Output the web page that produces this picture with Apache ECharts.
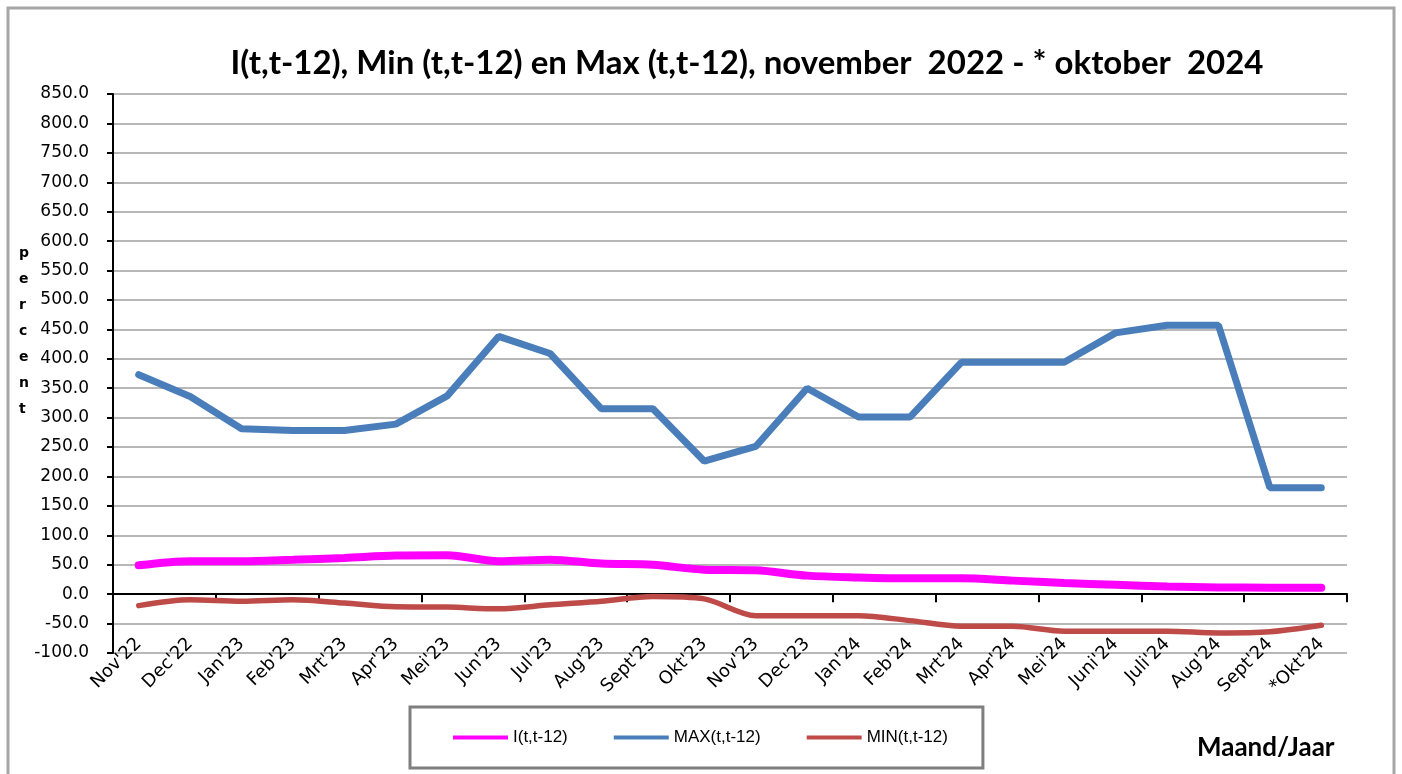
<!DOCTYPE html>
<html>
<head>
<meta charset="utf-8">
<script src="https://cdn.jsdelivr.net/npm/echarts@6/dist/echarts.min.js"></script>
<style>
  html, body { margin: 0; padding: 0; background: #fff; }
  #chart { width: 1402px; height: 774px; }
</style>
</head>
<body>
<div id="chart"></div>
<script>
// --- data ---
const months = ["Nov'22", "Dec'22", "Jan'23", "Feb'23", "Mrt'23", "Apr'23", "Mei'23", "Jun'23",
  "Jul'23", "Aug'23", "Sept'23", "Okt'23", "Nov'23", "Dec'23", "Jan'24", "Feb'24", "Mrt'24",
  "Apr'24", "Mei'24", "Juni'24", "Juli'24", "Aug'24", "Sept'24", "*Okt'24"];

const indexValues = [49, 56, 56, 58.5, 61.5, 65.5, 66, 56, 58.5, 52, 50, 41.5, 40.5, 31.5,
  28.5, 27, 27, 23, 19, 16, 13, 11.5, 11, 11];
const maxValues = [373, 336, 281, 278, 278, 289, 337, 438, 409, 315, 315, 226, 251, 350,
  301, 301, 394, 394, 394, 444, 457, 457, 181, 181];
const minValues = [-19.5, -9.5, -12, -9.5, -15, -21.5, -22, -25, -18, -12, -4, -8, -36.5,
  -36.5, -36.5, -45, -54.5, -54.5, -63, -63, -63, -66, -64, -53];

const seriesNames = ['I(t,t-12)', 'MAX(t,t-12)', 'MIN(t,t-12)'];
const seriesColors = ['#ff00ff', '#4a7ebb', '#be4b48'];

const chart = echarts.init(document.getElementById('chart'));

const labelFont = 'DejaVu Sans';

const option = {
  backgroundColor: '#fff',
  animation: false,
  title: {
    text: 'I(t,t-12), Min (t,t-12) en Max (t,t-12), november  2022 - * oktober  2024',
    left: 742,
    textAlign: 'center',
    top: 42,
    textStyle: { fontFamily: 'Lato', fontWeight: 'bold', fontSize: 33, color: '#000' }
  },
  grid: { left: 113, right: 55, top: 94, bottom: 121 },
  legend: {
    left: 410,
    top: 707,
    padding: [22, 35, 22, 43],
    itemGap: 46,
    itemWidth: 55,
    itemHeight: 4,
    icon: 'rect',
    borderColor: '#7f7f7f',
    borderWidth: 3,
    data: seriesNames,
    textStyle: { fontFamily: 'Liberation Sans Narrow, Liberation Sans', fontSize: 17, color: '#000' }
  },
  xAxis: [
    {
      type: 'category',
      data: months,
      boundaryGap: true,
      axisLine: { onZero: true, lineStyle: { color: '#000', width: 2 } },
      axisTick: { show: true, length: 8, lineStyle: { color: '#000', width: 2 } },
      axisLabel: { show: false },
      splitLine: { show: false }
    },
    {
      type: 'category',
      data: months,
      position: 'bottom',
      boundaryGap: true,
      axisLine: { show: false, onZero: false },
      axisTick: { show: false },
      axisLabel: {
        rotate: 45,
        interval: 0,
        margin: -12,
        fontFamily: labelFont,
        fontSize: 18,
        color: '#000'
      },
      splitLine: { show: false }
    }
  ],
  yAxis: {
    type: 'value',
    min: -100,
    max: 850,
    interval: 50,
    axisLine: { show: true, lineStyle: { color: '#000', width: 2 } },
    axisTick: { show: true, length: 6, lineStyle: { color: '#000', width: 2 } },
    axisLabel: {
      margin: 24,
      fontFamily: labelFont,
      fontSize: 17,
      color: '#000',
      formatter: v => v.toFixed(1)
    },
    splitLine: { lineStyle: { color: '#a0a0a0', width: 1.5 } }
  },
  series: [
    {
      name: seriesNames[0],
      type: 'line',
      data: indexValues,
      smooth: 0.3,
      showSymbol: false,
      color: seriesColors[0],
      lineStyle: { width: 8, cap: 'round' },
      z: 3
    },
    {
      name: seriesNames[1],
      type: 'line',
      data: maxValues,
      showSymbol: false,
      color: seriesColors[1],
      lineStyle: { width: 7, cap: 'round' },
      z: 4
    },
    {
      name: seriesNames[2],
      type: 'line',
      data: minValues,
      smooth: 0.3,
      showSymbol: false,
      color: seriesColors[2],
      lineStyle: { width: 5.5, cap: 'round' },
      z: 2
    }
  ],
  graphic: [
    {
      type: 'rect',
      shape: { x: 8, y: 8, width: 1386, height: 800 },
      style: { fill: null, stroke: '#a6a6a6', lineWidth: 3 },
      silent: true
    },
    {
      type: 'text',
      left: 19,
      top: 240,
      style: {
        text: 'p\ne\nr\nc\ne\nn\nt',
        fontFamily: 'DejaVu Sans',
        fontWeight: 'bold',
        fontSize: 14,
        lineHeight: 26,
        align: 'center',
        fill: '#000'
      }
    },
    {
      type: 'text',
      left: 1197,
      top: 735,
      style: {
        text: 'Maand/Jaar',
        fontFamily: 'Lato',
        fontWeight: 'bold',
        fontSize: 26,
        fill: '#000'
      }
    }
  ]
};

chart.setOption(option);
</script>
</body>
</html>
